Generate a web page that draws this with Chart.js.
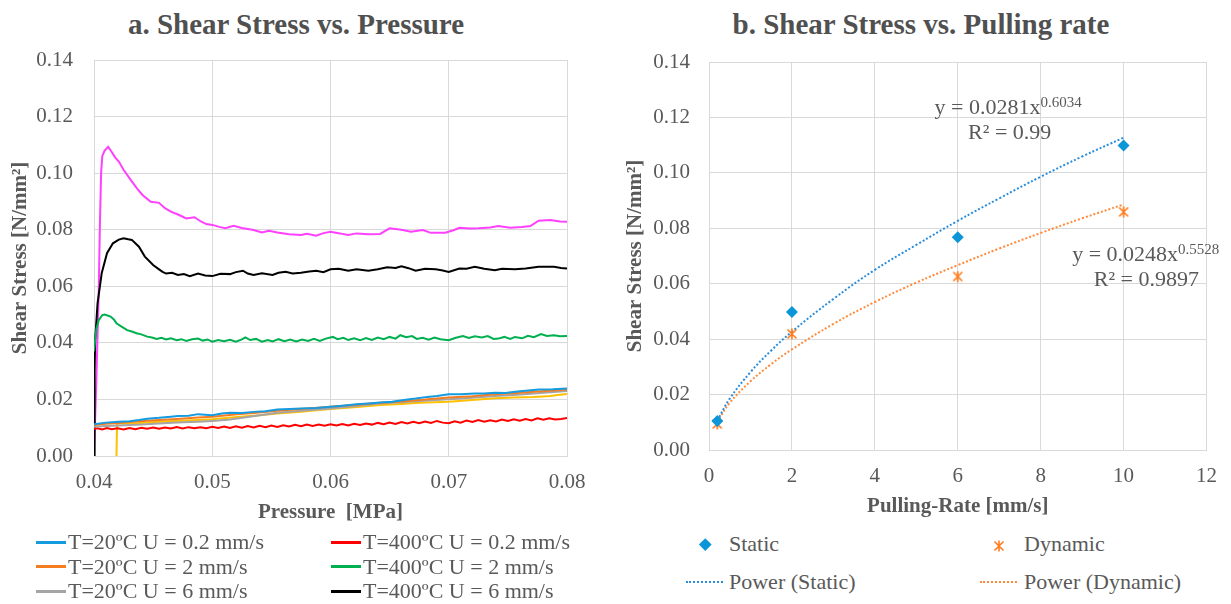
<!DOCTYPE html>
<html>
<head>
<meta charset="utf-8">
<script src="https://cdn.jsdelivr.net/npm/chart.js@4.4.0/dist/chart.umd.min.js"></script>
<style>
  body { margin: 0; background: #fff; }
  #wrap { position: relative; width: 1231px; height: 604px; overflow: hidden; background: #fff;
          font-family: "Liberation Serif", "Times New Roman", serif; color: #595959; }
  canvas { position: absolute; top: 0; }
  .title { position: absolute; top: 24px; transform: translate(-50%, -50%); font-weight: bold;
           font-size: 29px; line-height: 1; white-space: nowrap; color: #505050;
           font-family: "Liberation Serif", serif; }
  .leg { position: absolute; font-size: 22px; line-height: 1; white-space: nowrap; transform: translateY(-50%);
         font-family: "Liberation Serif", serif; }
  .sw { position: absolute; }
</style>
</head>
<body>
<div id="wrap">
  <div class="title" style="left:296px">a. Shear Stress vs. Pressure</div>
  <div class="title" style="left:921px">b. Shear Stress vs. Pulling rate</div>
  <canvas id="chartA" width="600" height="530" style="left:0"></canvas>
  <canvas id="chartB" width="616" height="530" style="left:615px"></canvas>
</div>
<script>
const FONT = '"Liberation Serif", serif';
const GRID = '#d9d9d9';
const TXT = '#595959';

// a. shear stress [N/mm²] against pressure [MPa], pairs
const t20u02 = [[0.0400,0.0112],[0.0410,0.0118],[0.0421,0.0121],[0.0430,0.0123],[0.0438,0.0127],[0.0445,0.0132],[0.0455,0.0135],[0.0465,0.0139],[0.0471,0.0141],[0.0480,0.0142],[0.0488,0.0148],[0.0500,0.0144],[0.0508,0.0150],[0.0515,0.0153],[0.0525,0.0152],[0.0535,0.0156],[0.0545,0.0158],[0.0555,0.0164],[0.0565,0.0166],[0.0575,0.0168],[0.0588,0.0170],[0.0600,0.0174],[0.0610,0.0178],[0.0622,0.0183],[0.0632,0.0186],[0.0642,0.0189],[0.0652,0.0192],[0.0665,0.0200],[0.0672,0.0203],[0.0682,0.0209],[0.0690,0.0212],[0.0700,0.0218],[0.0710,0.0218],[0.0722,0.0221],[0.0730,0.0221],[0.0739,0.0224],[0.0748,0.0223],[0.0756,0.0227],[0.0765,0.0231],[0.0776,0.0235],[0.0788,0.0236],[0.0800,0.0239]];
const t20u2 = [[0.0400,0.0110],[0.0410,0.0114],[0.0421,0.0117],[0.0435,0.0122],[0.0455,0.0127],[0.0470,0.0131],[0.0488,0.0136],[0.0500,0.0139],[0.0521,0.0148],[0.0535,0.0152],[0.0555,0.0160],[0.0575,0.0166],[0.0600,0.0174],[0.0620,0.0180],[0.0642,0.0188],[0.0660,0.0193],[0.0675,0.0198],[0.0690,0.0203],[0.0700,0.0207],[0.0720,0.0211],[0.0739,0.0218],[0.0755,0.0222],[0.0772,0.0227],[0.0786,0.0231],[0.0800,0.0235]];
const t20u6 = [[0.0400,0.0103],[0.0410,0.0106],[0.0421,0.0108],[0.0440,0.0111],[0.0455,0.0115],[0.0470,0.0118],[0.0488,0.0121],[0.0500,0.0124],[0.0515,0.0129],[0.0530,0.0138],[0.0555,0.0153],[0.0575,0.0160],[0.0600,0.0168],[0.0620,0.0176],[0.0642,0.0186],[0.0660,0.0190],[0.0675,0.0194],[0.0700,0.0201],[0.0720,0.0206],[0.0739,0.0212],[0.0755,0.0216],[0.0772,0.0221],[0.0786,0.0225],[0.0800,0.0230]];
const t400u02 = [[0.0400,0.0095],[0.0403,0.0098],[0.0407,0.0094],[0.0411,0.0099],[0.0415,0.0095],[0.0420,0.0098],[0.0425,0.0094],[0.0430,0.0099],[0.0435,0.0095],[0.0440,0.0100],[0.0445,0.0096],[0.0450,0.0101],[0.0455,0.0096],[0.0460,0.0101],[0.0465,0.0097],[0.0470,0.0102],[0.0475,0.0097],[0.0480,0.0102],[0.0485,0.0098],[0.0490,0.0102],[0.0495,0.0098],[0.0500,0.0103],[0.0505,0.0099],[0.0510,0.0104],[0.0515,0.0099],[0.0520,0.0105],[0.0525,0.0100],[0.0530,0.0106],[0.0535,0.0101],[0.0540,0.0107],[0.0545,0.0102],[0.0550,0.0108],[0.0555,0.0103],[0.0560,0.0109],[0.0565,0.0104],[0.0570,0.0110],[0.0575,0.0105],[0.0580,0.0111],[0.0585,0.0106],[0.0590,0.0111],[0.0595,0.0107],[0.0600,0.0112],[0.0605,0.0108],[0.0610,0.0113],[0.0615,0.0108],[0.0620,0.0114],[0.0625,0.0110],[0.0630,0.0115],[0.0635,0.0111],[0.0640,0.0117],[0.0645,0.0112],[0.0650,0.0118],[0.0655,0.0113],[0.0660,0.0120],[0.0665,0.0115],[0.0670,0.0121],[0.0675,0.0116],[0.0680,0.0122],[0.0685,0.0117],[0.0690,0.0124],[0.0695,0.0118],[0.0700,0.0116],[0.0705,0.0123],[0.0710,0.0118],[0.0715,0.0125],[0.0720,0.0120],[0.0725,0.0127],[0.0730,0.0121],[0.0735,0.0126],[0.0740,0.0122],[0.0745,0.0129],[0.0750,0.0124],[0.0755,0.0130],[0.0760,0.0125],[0.0765,0.0131],[0.0770,0.0126],[0.0775,0.0133],[0.0780,0.0128],[0.0785,0.0133],[0.0790,0.0129],[0.0795,0.0131],[0.0800,0.0134]];
const t400u2 = [[0.0400,0.0370],[0.0402,0.0450],[0.0404,0.0480],[0.0407,0.0498],[0.0409,0.0500],[0.0412,0.0496],[0.0414,0.0493],[0.0417,0.0482],[0.0419,0.0469],[0.0423,0.0458],[0.0428,0.0445],[0.0432,0.0440],[0.0436,0.0434],[0.0440,0.0430],[0.0445,0.0422],[0.0449,0.0419],[0.0453,0.0414],[0.0457,0.0418],[0.0461,0.0412],[0.0465,0.0416],[0.0470,0.0409],[0.0474,0.0413],[0.0478,0.0407],[0.0483,0.0413],[0.0488,0.0415],[0.0492,0.0408],[0.0496,0.0412],[0.0500,0.0404],[0.0505,0.0410],[0.0510,0.0406],[0.0515,0.0411],[0.0520,0.0404],[0.0525,0.0412],[0.0528,0.0419],[0.0532,0.0410],[0.0537,0.0414],[0.0542,0.0404],[0.0547,0.0410],[0.0551,0.0405],[0.0556,0.0413],[0.0561,0.0406],[0.0566,0.0412],[0.0571,0.0405],[0.0576,0.0412],[0.0581,0.0407],[0.0586,0.0414],[0.0591,0.0407],[0.0596,0.0415],[0.0602,0.0421],[0.0606,0.0413],[0.0611,0.0418],[0.0615,0.0410],[0.0620,0.0416],[0.0625,0.0409],[0.0630,0.0417],[0.0635,0.0410],[0.0640,0.0419],[0.0645,0.0413],[0.0650,0.0421],[0.0655,0.0415],[0.0659,0.0427],[0.0664,0.0420],[0.0669,0.0424],[0.0673,0.0414],[0.0678,0.0418],[0.0683,0.0411],[0.0688,0.0419],[0.0693,0.0413],[0.0700,0.0409],[0.0706,0.0418],[0.0712,0.0424],[0.0717,0.0417],[0.0722,0.0423],[0.0728,0.0419],[0.0733,0.0424],[0.0738,0.0414],[0.0742,0.0415],[0.0747,0.0421],[0.0752,0.0414],[0.0756,0.0421],[0.0762,0.0416],[0.0767,0.0425],[0.0772,0.0420],[0.0778,0.0431],[0.0783,0.0424],[0.0789,0.0427],[0.0794,0.0423],[0.0800,0.0424]];
const t400u6 = [[0.0400,0.0000],[0.04005,0.0300],[0.0401,0.0410],[0.0403,0.0540],[0.04065,0.0646],[0.0411,0.0717],[0.0416,0.0752],[0.0421,0.0765],[0.0425,0.0770],[0.0429,0.0766],[0.0432,0.0764],[0.0438,0.0740],[0.0443,0.0705],[0.0450,0.0675],[0.0455,0.0660],[0.0458,0.0651],[0.0461,0.0645],[0.0466,0.0648],[0.0471,0.0640],[0.0476,0.0643],[0.0481,0.0636],[0.0488,0.0645],[0.0494,0.0638],[0.0500,0.0636],[0.0507,0.0644],[0.0515,0.0643],[0.0520,0.0650],[0.0526,0.0655],[0.0530,0.0645],[0.0535,0.0640],[0.0542,0.0646],[0.0551,0.0640],[0.0556,0.0648],[0.0562,0.0651],[0.0568,0.0645],[0.0575,0.0648],[0.0582,0.0652],[0.0588,0.0655],[0.0594,0.0650],[0.0600,0.0660],[0.0607,0.0662],[0.0615,0.0655],[0.0622,0.0660],[0.0632,0.0655],[0.0640,0.0660],[0.0648,0.0667],[0.0655,0.0665],[0.0660,0.0671],[0.0666,0.0664],[0.0672,0.0655],[0.0680,0.0662],[0.0689,0.0660],[0.0695,0.0656],[0.0700,0.0651],[0.0709,0.0663],[0.0715,0.0662],[0.0722,0.0669],[0.0730,0.0662],[0.0739,0.0657],[0.0745,0.0662],[0.0756,0.0660],[0.0765,0.0663],[0.0776,0.0669],[0.0789,0.0669],[0.0795,0.0665],[0.0800,0.0663]];
// two more runs drawn in the plot but not named in its legend
const magentaRun = [[0.0400,0.000],[0.0402,0.027],[0.0404,0.058],[0.0405,0.082],[0.0406,0.100],[0.0407,0.106],[0.0409,0.108],[0.0412,0.1093],[0.0415,0.1075],[0.0418,0.1055],[0.0421,0.1041],[0.0425,0.1012],[0.0431,0.0976],[0.0436,0.0948],[0.0441,0.0923],[0.0448,0.0899],[0.0455,0.0895],[0.0460,0.0876],[0.0465,0.0864],[0.0472,0.0852],[0.0478,0.0840],[0.0485,0.0844],[0.0490,0.0830],[0.0495,0.0820],[0.0500,0.0817],[0.0506,0.0810],[0.0511,0.0805],[0.0518,0.0814],[0.0525,0.0806],[0.0535,0.0799],[0.0542,0.0790],[0.0548,0.0796],[0.0555,0.0790],[0.0565,0.0784],[0.0575,0.0781],[0.0580,0.0786],[0.0588,0.0779],[0.0594,0.0788],[0.0600,0.0793],[0.0608,0.0787],[0.0615,0.0781],[0.0622,0.0787],[0.0632,0.0784],[0.0642,0.0785],[0.0646,0.0795],[0.0650,0.0805],[0.0660,0.0800],[0.0668,0.0793],[0.0678,0.0799],[0.0685,0.0789],[0.0697,0.0789],[0.0704,0.0798],[0.0709,0.0807],[0.0718,0.0804],[0.0725,0.0805],[0.0735,0.0808],[0.0742,0.0813],[0.0752,0.0807],[0.0762,0.0810],[0.0769,0.0813],[0.0776,0.0832],[0.0786,0.0834],[0.0794,0.0829],[0.0800,0.0828]];
const yellowRun = [[0.0419,0.0000],[0.04195,0.0115],[0.0430,0.0116],[0.0438,0.0117],[0.0455,0.0121],[0.0488,0.0127],[0.0500,0.0130],[0.0521,0.0138],[0.0540,0.0144],[0.0555,0.0150],[0.0575,0.0156],[0.0588,0.0162],[0.0600,0.0166],[0.0620,0.0172],[0.0642,0.0180],[0.0660,0.0184],[0.0675,0.0188],[0.0700,0.0192],[0.0720,0.0198],[0.0739,0.0204],[0.0755,0.0207],[0.0772,0.0209],[0.0786,0.0212],[0.0792,0.0216],[0.0800,0.0219]];

// b. shear stress against pulling rate [mm/s]
const rate = [0.2, 2, 6, 10];
const staticStress = [0.0105, 0.0498, 0.0768, 0.1099];
const dynamicStress = [0.0094, 0.0419, 0.0626, 0.0859];
// power trendlines as drawn
const fitRate = [0.2, 0.5, 1, 1.5, 2, 3, 4, 5, 6, 7, 8, 9, 10];
const fitStatic = [0.0106, 0.0185, 0.0281, 0.0359, 0.0427, 0.0545, 0.0650, 0.0740, 0.0827, 0.0908, 0.0986, 0.1059, 0.1127];
const fitDynamic = [0.0102, 0.0170, 0.0248, 0.0310, 0.0363, 0.0455, 0.0534, 0.0604, 0.0667, 0.0727, 0.0783, 0.0836, 0.0886];
const staticEq = ['y = 0.0281x', '0.6034', 'R² = 0.99'];
const dynamicEq = ['y = 0.0248x', '0.5528', 'R² = 0.9897'];

const pairs = arr => arr.map(([x, y]) => ({ x, y }));
const zip = (xs, ys) => xs.map((x, i) => ({ x, y: ys[i] }));

const tickFont = { family: FONT, size: 21 };
const axisTitle = (text, top) => ({
  display: true, text, color: TXT,
  font: { family: FONT, size: 21, weight: 'bold' },
  padding: { top, bottom: 0 }
});

const seriesA = [
  { label: 'T=20ºC U = 0.2 mm/s', data: t20u02, color: '#149be0' },
  { label: 'T=20ºC U = 2 mm/s', data: t20u2, color: '#f47d22' },
  { label: 'T=20ºC U = 6 mm/s', data: t20u6, color: '#a5a5a5' },
  { label: 'T=400ºC U = 0.2 mm/s', data: t400u02, color: '#ff0000' },
  { label: 'T=400ºC U = 2 mm/s', data: t400u2, color: '#00b050' },
  { label: 'T=400ºC U = 6 mm/s', data: t400u6, color: '#000000' },
  { label: '', data: magentaRun, color: '#ff40ff' },
  { label: '', data: yellowRun, color: '#ffc000' }
];

const chartA = new Chart(document.getElementById('chartA'), {
  type: 'line',
  data: {
    datasets: seriesA.map(s => ({
      label: s.label, data: pairs(s.data), borderColor: s.color, backgroundColor: s.color,
      borderWidth: 2, pointRadius: 0, tension: 0
    }))
  },
  options: {
    responsive: false,
    animation: false,
    layout: { padding: { top: 60, right: 33, bottom: 5, left: 0 } },
    plugins: { legend: { display: false }, tooltip: { enabled: false } },
    scales: {
      x: {
        type: 'linear', min: 0.04, max: 0.08,
        ticks: { stepSize: 0.01, callback: v => v.toFixed(2), color: TXT, font: tickFont, padding: 14, maxRotation: 0 },
        grid: { color: GRID, drawTicks: false },
        border: { color: GRID },
        title: axisTitle('Pressure  [MPa]', 0),
        afterFit: s => { s.height = 69; }
      },
      y: {
        min: 0, max: 0.14,
        ticks: { stepSize: 0.02, callback: v => v.toFixed(2), color: TXT, font: tickFont, padding: 21 },
        grid: { color: GRID, drawTicks: false },
        border: { color: GRID },
        title: axisTitle('Shear Stress [N/mm²]', 8),
        afterFit: s => { s.width = 94; }
      }
    }
  }
});

// star marker like the spreadsheet's asterisk
const star = document.createElement('canvas');
star.width = 12; star.height = 12;
{
  const c = star.getContext('2d');
  c.strokeStyle = '#ff7b1c'; c.lineWidth = 1.6;
  c.beginPath();
  c.moveTo(1.5, 1.5); c.lineTo(10.5, 10.5);
  c.moveTo(10.5, 1.5); c.lineTo(1.5, 10.5);
  c.moveTo(6, 0.5); c.lineTo(6, 11.5);
  c.stroke();
}

const fitLabels = {
  id: 'fitLabels',
  afterDatasetsDraw(chart) {
    const { ctx, scales: { x, y } } = chart;
    const eq = (vx, vy, parts) => {
      const px = x.getPixelForValue(vx), py = y.getPixelForValue(vy);
      ctx.font = `22px ${FONT}`;
      ctx.fillText(parts[0], px, py);
      const w = ctx.measureText(parts[0]).width;
      ctx.font = `15px ${FONT}`;
      ctx.fillText(parts[1], px + w, py - 5);
    };
    const r2 = (vx, vy, text) => {
      ctx.font = `22px ${FONT}`;
      ctx.fillText(text, x.getPixelForValue(vx), y.getPixelForValue(vy));
    };
    ctx.save();
    ctx.fillStyle = TXT;
    ctx.textBaseline = 'middle';
    eq(5.44, 0.1234, staticEq);
    r2(6.25, 0.1144, staticEq[2]);
    eq(8.76, 0.0704, dynamicEq);
    r2(9.28, 0.0613, dynamicEq[2]);
    ctx.restore();
  }
};

const chartB = new Chart(document.getElementById('chartB'), {
  type: 'scatter',
  data: {
    datasets: [
      { label: 'Static', data: zip(rate, staticStress), pointStyle: 'rectRot', pointRadius: 6,
        backgroundColor: '#0c95d7', borderColor: '#0c95d7', borderWidth: 0, order: 0 },
      { label: 'Dynamic', data: zip(rate, dynamicStress), pointStyle: star, pointRadius: 6,
        backgroundColor: '#ff7b1c', borderColor: '#ff7b1c', order: 0 },
      { label: 'Power (Static)', data: zip(fitRate, fitStatic), showLine: true, pointRadius: 0,
        borderColor: '#2a8ddb', borderWidth: 2, borderDash: [2, 2], tension: 0.4, order: 1 },
      { label: 'Power (Dynamic)', data: zip(fitRate, fitDynamic), showLine: true, pointRadius: 0,
        borderColor: '#ff8a3a', borderWidth: 2, borderDash: [2, 2], tension: 0.4, order: 1 }
    ]
  },
  options: {
    responsive: false,
    animation: false,
    layout: { padding: { top: 62, right: 19, bottom: 11, left: 0 } },
    plugins: { legend: { display: false }, tooltip: { enabled: false } },
    scales: {
      x: {
        type: 'linear', min: 0, max: 12,
        ticks: { stepSize: 2, color: TXT, font: tickFont, padding: 14, maxRotation: 0 },
        grid: { color: GRID, drawTicks: false },
        border: { color: GRID },
        title: axisTitle('Pulling-Rate [mm/s]', 0),
        afterFit: s => { s.height = 69; }
      },
      y: {
        min: 0, max: 0.14,
        ticks: { stepSize: 0.02, callback: v => v.toFixed(2), color: TXT, font: tickFont, padding: 19 },
        grid: { color: GRID, drawTicks: false },
        border: { color: GRID },
        title: axisTitle('Shear Stress [N/mm²]', 8),
        afterFit: s => { s.width = 94; }
      }
    }
  },
  plugins: [fitLabels]
});

// HTML legends built from the chart datasets
const wrap = document.getElementById('wrap');
function addText(text, left, top) {
  const d = document.createElement('div');
  d.className = 'leg';
  d.textContent = text;
  d.style.left = left + 'px';
  d.style.top = top + 'px';
  wrap.appendChild(d);
}
function addSwatch(css, left, top) {
  const d = document.createElement('div');
  d.className = 'sw';
  d.style.cssText += css + `left:${left}px;top:${top}px;`;
  wrap.appendChild(d);
  return d;
}

chartA.data.datasets.filter(ds => ds.label).forEach((ds, i) => {
  const col = Math.floor(i / 3), row = i % 3;
  const y = 542 + row * 24.5;
  addSwatch(`width:30px;height:3px;background:${ds.borderColor};`, 36 + col * 295, y - 1.5);
  addText(ds.label, 68 + col * 295, y);
});

chartB.data.datasets.forEach((ds, i) => {
  const col = i % 2, row = Math.floor(i / 2);
  const cx = col ? 999 : 705, y = 544 + row * 38;
  if (ds.showLine) {
    addSwatch(`width:37px;height:0;border-top:2px dotted ${ds.borderColor};`, cx - 19, y - 1);
  } else if (ds.pointStyle === 'rectRot') {
    addSwatch(`width:8.5px;height:8.5px;background:${ds.backgroundColor};transform:rotate(45deg);`, cx - 4.25, y - 4.25);
  } else {
    const img = new Image();
    img.src = star.toDataURL();
    const s = addSwatch('width:12px;height:12px;', cx - 6, y - 6);
    img.width = 12; img.height = 12;
    s.appendChild(img);
  }
  addText(ds.label, col ? 1024 : 729, y);
});
</script>
</body>
</html>
